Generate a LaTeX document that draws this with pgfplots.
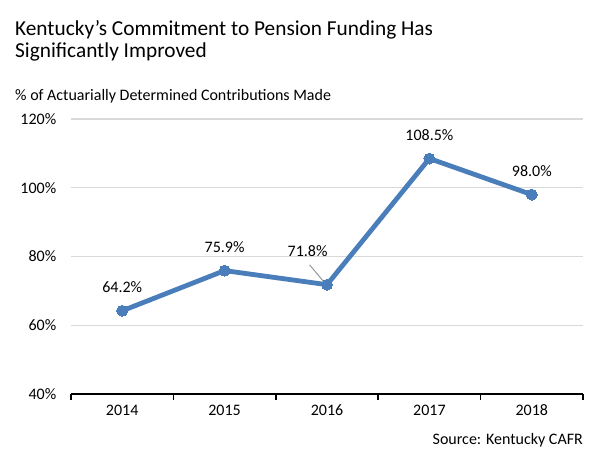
\documentclass[border=0pt]{standalone}
\usepackage{fontspec}
\setmainfont{Carlito}
\usepackage{pgfplots}
\pgfplotsset{compat=1.18}
\definecolor{lineblue}{HTML}{4A7EBB}
\definecolor{gridgray}{HTML}{D9D9D9}
\begin{document}
\begin{tikzpicture}[x=1pt,y=1pt]
\path[use as bounding box] (-71,-66) rectangle (531,394);
\begin{axis}[
  at={(0,0)}, anchor=south west,
  scale only axis, width=512pt, height=275pt,
  xmin=-0.5, xmax=4.5, ymin=40, ymax=120,
  axis lines*=left,
  y axis line style={draw=none},
  x axis line style={black, line width=1.5pt},
  xtick={0,1,2,3,4},
  xticklabels={2014,2015,2016,2017,2018},
  minor xtick={-0.5,0.5,1.5,2.5,3.5,4.5},
  major x tick style={draw=none},
  minor x tick style={black, line width=1.5pt},
  minor tick length=6pt,
  tick align=outside,
  ytick={40,60,80,100,120},
  major y tick style={draw=none},
  yticklabel={\pgfmathprintnumber{\tick}\%},
  ymajorgrids, grid style={gridgray, line width=1.2pt},
  /pgf/number format/assume math mode=true,
  ticklabel style={font=\fontsize{16}{18}\selectfont},
  yticklabel style={xshift=-7pt},
  xticklabel style={yshift=-3pt},
  clip=false,
]
\addplot[lineblue, line width=4.8pt, mark=*, mark size=5.5pt,
  mark options={fill=lineblue, draw=lineblue, line width=0pt},
  nodes near coords, point meta=explicit symbolic,
  every node near coord/.append style={font=\fontsize{16}{18}\selectfont, black, anchor=base, inner sep=0pt, yshift=18pt}]
  coordinates {(0,64.2)[64.2\%] (1,75.9)[75.9\%] (2,71.8)[] (3,108.5)[108.5\%] (4,98.0)[98.0\%]};
\node[font=\fontsize{16}{18}\selectfont, anchor=base, inner sep=0pt] at (axis cs:1.81,79.9) {71.8\%};
\draw[gray!80, line width=1pt] (axis cs:1.83,77.6) -- (axis cs:1.97,72.6);
\end{axis}
\node[anchor=base west, inner sep=0pt, font=\fontsize{21.3}{24}\selectfont] at (-56,358) {Kentucky's Commitment to Pension Funding Has};
\node[anchor=base west, inner sep=0pt, font=\fontsize{21.3}{24}\selectfont] at (-56,336) {Significantly Improved};
\node[anchor=base west, inner sep=0pt, font=\fontsize{16}{18}\selectfont] at (-56,293) {\% of Actuarially Determined Contributions Made};
\node[anchor=base east, inner sep=0pt, font=\fontsize{16}{18}\selectfont] at (512,-50) {Source: Kentucky CAFR};
\end{tikzpicture}
\end{document}
